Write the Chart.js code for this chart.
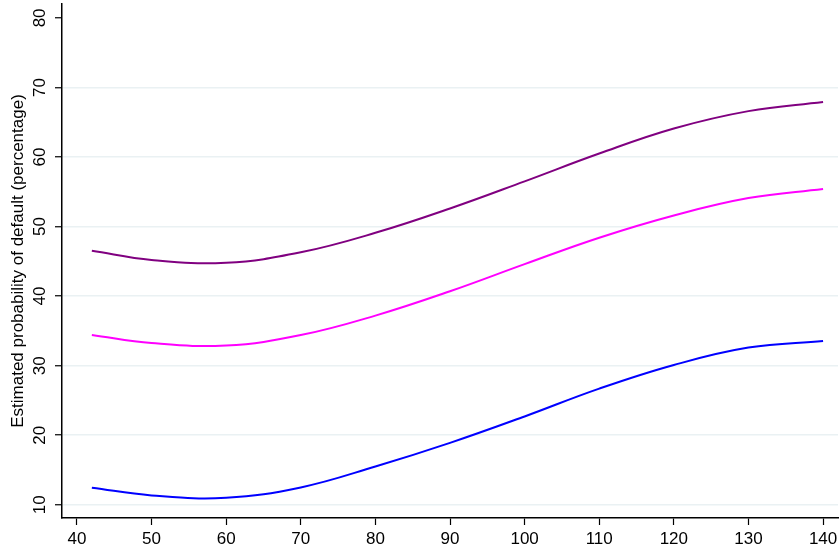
<!DOCTYPE html>
<html>
<head>
<meta charset="utf-8">
<script src="https://cdn.jsdelivr.net/npm/chart.js@4/dist/chart.umd.min.js"></script>
<style>
  html, body { margin: 0; padding: 0; background: #ffffff; }
  #wrap { width: 840px; height: 555px; }
</style>
</head>
<body>
<div id="wrap"><canvas id="c" width="840" height="555"></canvas></div>
<script>
// Predicted default probability (%) along the x variable, three profiles
const xValues      = [42, 50, 60, 70, 80, 90, 100, 110, 120, 130, 140];
const purpleCurve  = [46.52, 45.2, 44.8, 46.3, 49.1, 52.6, 56.5, 60.5, 64.1, 66.6, 67.9];
const magentaCurve = [34.41, 33.25, 32.9, 34.4, 37.2, 40.7, 44.6, 48.4, 51.6, 54.1, 55.4];
const blueCurve    = [12.45, 11.35, 11.0, 12.5, 15.5, 18.9, 22.7, 26.7, 30.1, 32.6, 33.55];
const xTicks = [40, 50, 60, 70, 80, 90, 100, 110, 120, 130, 140];
const yTicks = [10, 20, 30, 40, 50, 60, 70, 80];
const yTitle = 'Estimated probability of default (percentage)';

const toPoints = ys => xValues.map((x, i) => ({ x: x, y: ys[i] }));

const series = [
  { data: purpleCurve, color: '#800080' },
  { data: magentaCurve, color: '#ff00ff' },
  { data: blueCurve, color: '#0000ff' }
];

const family = '"Liberation Sans", Arial, sans-serif';
const tickFont = { family: family, size: 17 };

new Chart(document.getElementById('c'), {
  type: 'line',
  data: {
    datasets: series.map(s => ({
      data: toPoints(s.data),
      borderColor: s.color,
      borderWidth: 2,
      pointRadius: 0,
      fill: false,
      tension: 0.4
    }))
  },
  options: {
    responsive: false,
    animation: false,
    events: [],
    layout: { padding: { top: 4, right: 2, left: 0, bottom: 0 } },
    plugins: { legend: { display: false }, tooltip: { enabled: false } },
    scales: {
      x: {
        type: 'linear',
        min: 38,
        max: 142,
        afterBuildTicks: s => { s.ticks = xTicks.map(v => ({ value: v })); },
        afterFit: s => { s.height = 37; s.paddingLeft = 0; s.paddingRight = 0; },
        border: { display: true, color: '#000000', width: 1.5 },
        grid: { drawOnChartArea: false, drawTicks: true, tickLength: 7, tickColor: '#000000', tickWidth: 1.2 },
        ticks: { color: '#000000', font: tickFont, padding: 4, maxRotation: 0, minRotation: 0 }
      },
      y: {
        type: 'linear',
        min: 8.1,
        max: 82,
        afterBuildTicks: s => { s.ticks = yTicks.map(v => ({ value: v })); },
        afterFit: s => { s.width = 62; s.paddingTop = 0; s.paddingBottom = 0; },
        border: { display: true, color: '#000000', width: 1.5 },
        grid: {
          color: ctx => (ctx.tick && ctx.tick.value === 80) ? 'rgba(0,0,0,0)' : '#eaf1f3',
          lineWidth: 1.5,
          drawTicks: true,
          tickLength: 7,
          tickColor: '#000000',
          tickWidth: 1.2
        },
        ticks: { color: '#000000', font: tickFont, padding: 5, minRotation: 90, maxRotation: 90, crossAlign: 'center' },
        title: {
          display: true,
          text: yTitle,
          color: '#000000',
          font: { family: family, size: 17 },
          padding: { top: 8, bottom: 0 }
        }
      }
    }
  }
});
</script>
</body>
</html>
